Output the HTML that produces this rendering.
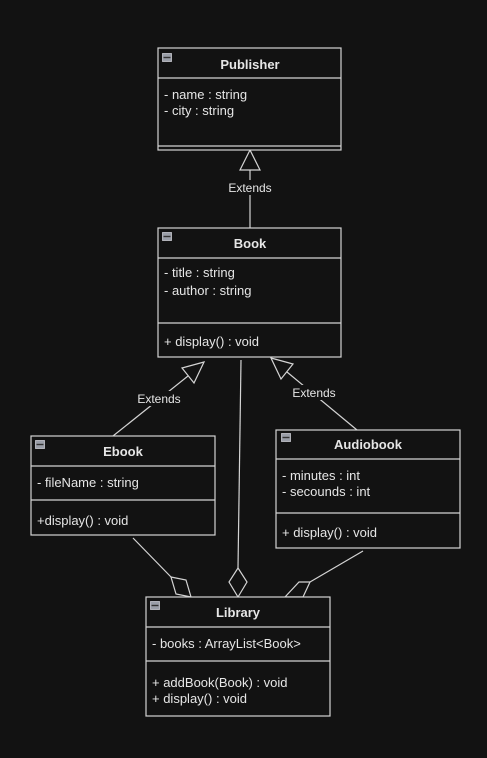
<!DOCTYPE html>
<html><head><meta charset="utf-8"><style>
html,body{margin:0;padding:0;background:#121212;}
svg{display:block;}
text{font-family:"Liberation Sans",sans-serif;fill:#e6e6e6;font-size:13px;}
.t{font-weight:bold;font-size:13px;}
.l{font-size:12px;}
</style></head><body>
<svg width="487" height="758" viewBox="0 0 487 758" xmlns="http://www.w3.org/2000/svg">
<rect width="487" height="758" fill="#121212"/>
<g fill="#121212" stroke="#d4d4d4" stroke-width="1.2">
<line x1="250" y1="228" x2="250" y2="170"/>
<polygon points="250,150 240,170 260,170"/>
<line x1="113" y1="436" x2="188" y2="376"/>
<polygon points="204,362 182,368 194,383"/>
<line x1="357" y1="430" x2="287" y2="372"/>
<polygon points="271,358 293,364 281,379"/>
<line x1="241" y1="360" x2="238" y2="568"/>
<polygon points="238,568 247,582 238,597 229,582"/>
<line x1="133" y1="538" x2="171" y2="577"/>
<polygon points="171,577 186,580 191,597 176,594"/>
<line x1="363" y1="551" x2="310" y2="582"/>
<polygon points="310,582 299,582 285,597 303,597"/>
<rect x="158" y="48" width="183" height="102"/>
<line x1="158" y1="78" x2="341" y2="78"/>
<line x1="158" y1="146" x2="341" y2="146"/>
<rect x="158" y="228" width="183" height="129"/>
<line x1="158" y1="258" x2="341" y2="258"/>
<line x1="158" y1="323" x2="341" y2="323"/>
<rect x="31" y="436" width="184" height="99"/>
<line x1="31" y1="466" x2="215" y2="466"/>
<line x1="31" y1="500" x2="215" y2="500"/>
<rect x="276" y="430" width="184" height="118"/>
<line x1="276" y1="459" x2="460" y2="459"/>
<line x1="276" y1="513" x2="460" y2="513"/>
<rect x="146" y="597" width="184" height="119"/>
<line x1="146" y1="627" x2="330" y2="627"/>
<line x1="146" y1="661" x2="330" y2="661"/>
</g>
<g fill="#121212">
<rect x="226" y="180" width="48" height="15"/>
<rect x="135" y="391" width="48" height="15"/>
<rect x="290" y="385" width="48" height="15"/>
</g>
<text class="l" x="250" y="192" text-anchor="middle">Extends</text>
<text class="l" x="159" y="403" text-anchor="middle">Extends</text>
<text class="l" x="314" y="397" text-anchor="middle">Extends</text>
<g fill="#9a9ea8" stroke="#c8c8d0" stroke-width="0.8">
<rect x="162.5" y="53.5" width="9" height="8"/>
<rect x="162.5" y="232.5" width="9" height="8"/>
<rect x="35.5" y="440.5" width="9" height="8"/>
<rect x="281.5" y="433.5" width="9" height="8"/>
<rect x="150.5" y="601.5" width="9" height="8"/>
</g>
<g stroke="#333" stroke-width="1.4">
<line x1="163.5" y1="57.5" x2="170.5" y2="57.5"/>
<line x1="163.5" y1="236.5" x2="170.5" y2="236.5"/>
<line x1="36.5" y1="444.5" x2="43.5" y2="444.5"/>
<line x1="282.5" y1="437.5" x2="289.5" y2="437.5"/>
<line x1="151.5" y1="605.5" x2="158.5" y2="605.5"/>
</g>
<text class="t" x="250" y="69" text-anchor="middle">Publisher</text>
<text x="164" y="99">- name : string</text>
<text x="164" y="115">- city : string</text>
<text class="t" x="250" y="248" text-anchor="middle">Book</text>
<text x="164" y="277">- title : string</text>
<text x="164" y="295">- author : string</text>
<text x="164" y="346">+ display() : void</text>
<text class="t" x="123" y="456" text-anchor="middle">Ebook</text>
<text x="37" y="487">- fileName : string</text>
<text x="37" y="525">+display() : void</text>
<text class="t" x="368" y="449" text-anchor="middle">Audiobook</text>
<text x="282" y="480">- minutes : int</text>
<text x="282" y="496">- secounds : int</text>
<text x="282" y="537">+ display() : void</text>
<text class="t" x="238" y="617" text-anchor="middle">Library</text>
<text x="152" y="648">- books : ArrayList&lt;Book&gt;</text>
<text x="152" y="687">+ addBook(Book) : void</text>
<text x="152" y="703">+ display() : void</text>
</svg>
</body></html>
